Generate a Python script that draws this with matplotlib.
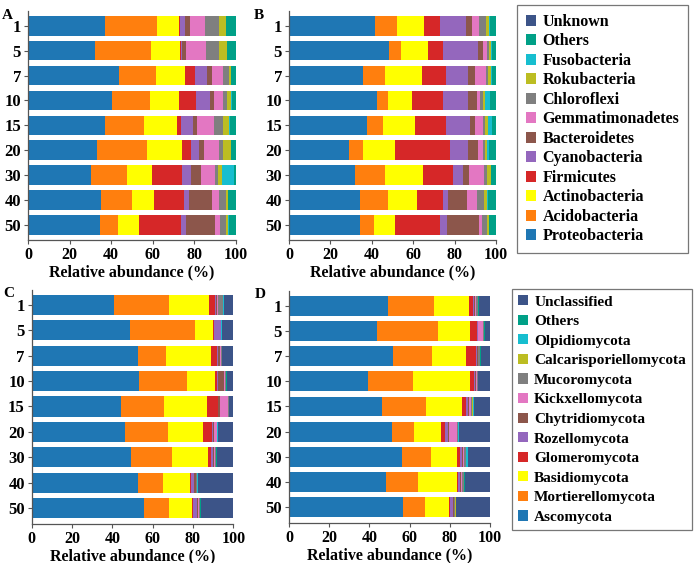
import numpy as np
import matplotlib
matplotlib.use("Agg")
import matplotlib.pyplot as plt
from matplotlib.patches import Patch

plt.rcParams['font.family'] = ['Liberation Serif', 'DejaVu Serif']
plt.rcParams['font.weight'] = 'bold'

samples = ["1", "5", "7", "10", "15", "20", "30", "40", "50"]

bacteria = ["Proteobacteria", "Acidobacteria", "Actinobacteria", "Firmicutes",
            "Cyanobacteria", "Bacteroidetes", "Gemmatimonadetes", "Chloroflexi",
            "Rokubacteria", "Fusobacteria", "Others", "Unknown"]
fungi = ["Ascomycota", "Mortierellomycota", "Basidiomycota", "Glomeromycota",
         "Rozellomycota", "Chytridiomycota", "Kickxellomycota", "Mucoromycota",
         "Calcarisporiellomycota", "Olpidiomycota", "Others", "Unclassified"]

colors = ["#1f77b4", "#ff7f0e", "#ffff00", "#d62728", "#9467bd", "#8c564b",
          "#e377c2", "#7f7f7f", "#bcbd22", "#17becf", "#00a087", "#3c5488"]

# rows = samples, columns = taxa (same order as the name lists)
data_A = [
    [37.0, 24.9, 10.9, 0.4, 2.1, 2.7, 7.0, 6.8, 3.2, 0.2, 4.8, 0],
    [32.2, 26.8, 14.1, 0.5, 0.3, 1.9, 9.8, 6.4, 3.5, 0.2, 4.3, 0],
    [43.8, 17.6, 14.1, 4.8, 5.6, 2.6, 5.4, 2.6, 0.9, 0.4, 2.2, 0],
    [40.2, 18.5, 14.1, 7.8, 6.7, 2.1, 4.5, 1.8, 2.1, 0.2, 2.0, 0],
    [37.0, 18.9, 15.6, 2.1, 5.9, 1.6, 8.3, 4.2, 3.2, 0.2, 3.0, 0],
    [33.3, 23.7, 16.9, 4.6, 3.7, 2.4, 7.1, 2.2, 3.5, 0.2, 2.4, 0],
    [30.1, 17.7, 11.8, 14.6, 4.2, 4.6, 7.1, 1.2, 1.8, 6.1, 0.8, 0],
    [35.1, 14.7, 10.6, 14.8, 2.2, 11.1, 3.2, 3.3, 1.0, 0.2, 3.8, 0],
    [34.8, 8.3, 10.3, 20.0, 2.6, 13.9, 2.2, 3.1, 1.0, 0.2, 3.6, 0],
]
data_B = [
    [41.4, 10.6, 13.2, 7.7, 12.4, 3.1, 3.2, 3.6, 1.6, 0.3, 2.9, 0],
    [48.3, 5.6, 13.1, 7.6, 16.5, 2.6, 1.8, 1.0, 0.9, 0.8, 1.8, 0],
    [35.7, 10.5, 18.2, 11.6, 10.3, 3.7, 5.0, 1.3, 1.1, 0.6, 2.0, 0],
    [42.5, 5.2, 11.7, 15.2, 11.7, 4.7, 1.3, 1.3, 1.1, 2.4, 2.9, 0],
    [37.7, 7.9, 15.4, 14.7, 11.7, 2.6, 3.6, 0.9, 1.5, 2.1, 1.9, 0],
    [29.0, 6.9, 15.5, 26.5, 8.4, 5.0, 2.6, 0.8, 0.8, 1.3, 3.2, 0],
    [32.0, 14.2, 18.5, 14.7, 4.5, 3.2, 7.3, 1.4, 1.8, 0.2, 2.2, 0],
    [34.1, 13.6, 14.0, 12.7, 2.3, 9.1, 4.9, 3.3, 1.8, 0.2, 4.0, 0],
    [34.3, 6.6, 10.5, 21.5, 3.6, 15.1, 1.6, 2.5, 0.8, 0.2, 3.3, 0],
]
data_C = [
    [40.8, 27.5, 19.8, 2.8, 0.5, 0.6, 0.5, 2.5, 0.1, 0.1, 0.1, 4.7],
    [48.8, 32.4, 8.6, 0.4, 3.5, 0.1, 0.1, 0.1, 0.1, 0.3, 0.1, 5.5],
    [52.6, 14.2, 22.1, 2.8, 0.7, 1.0, 0.3, 0.5, 0.1, 0.1, 0.1, 5.5],
    [53.2, 24.0, 13.7, 0.8, 0.5, 3.2, 0.3, 0.7, 0.1, 0.1, 0.1, 3.3],
    [44.1, 21.5, 21.2, 5.4, 0.4, 0.8, 4.1, 0.2, 0.1, 0.1, 0.1, 2.0],
    [46.3, 21.1, 17.6, 4.4, 0.7, 0.3, 1.3, 0.3, 0.1, 0.1, 0.1, 7.7],
    [49.1, 20.3, 17.9, 1.6, 0.9, 0.6, 0.3, 0.7, 0.1, 0.1, 0.1, 8.3],
    [52.7, 12.3, 13.5, 0.3, 1.7, 0.8, 0.2, 0.6, 0.1, 0.1, 0.1, 17.6],
    [55.7, 12.6, 11.2, 0.3, 2.0, 0.8, 0.2, 0.7, 0.1, 0.1, 0.1, 16.2],
]
data_D = [
    [49.1, 23.0, 17.6, 2.0, 0.4, 0.6, 0.3, 1.0, 0.1, 0.1, 0.1, 5.7],
    [43.6, 30.7, 15.7, 3.7, 0.2, 0.2, 2.5, 0.4, 0.1, 0.1, 0.1, 2.7],
    [51.6, 19.5, 17.0, 4.9, 0.3, 0.6, 0.3, 0.8, 0.1, 0.1, 0.1, 4.7],
    [39.3, 22.4, 28.3, 2.2, 0.4, 0.6, 0.2, 0.5, 0.1, 0.1, 0.1, 5.8],
    [46.1, 22.1, 17.9, 2.0, 1.0, 0.3, 1.3, 0.3, 0.7, 0.1, 0.1, 8.1],
    [51.2, 10.8, 13.6, 2.2, 1.3, 0.5, 4.1, 0.5, 0.1, 0.1, 0.1, 15.5],
    [56.4, 14.1, 12.9, 1.7, 0.8, 0.5, 0.8, 0.7, 0.3, 0.7, 0.1, 11.0],
    [48.1, 15.9, 19.4, 0.7, 1.0, 0.6, 0.4, 1.0, 0.1, 0.1, 0.1, 12.6],
    [56.6, 11.1, 11.9, 0.3, 1.5, 0.5, 0.2, 0.7, 0.1, 0.1, 0.1, 16.9],
]

W, H = 694, 563
fig = plt.figure(figsize=(W / 100, H / 100), dpi=100)


def px_axes(x0, x1, y0, y1):
    return fig.add_axes([x0 / W, 1 - y1 / H, (x1 - x0) / W, (y1 - y0) / H])


def panel(ax, data, letter, lx):
    vals = np.array(data)
    y = np.arange(len(samples))
    left = np.zeros(len(samples))
    for j in range(vals.shape[1]):
        ax.barh(y, vals[:, j], left=left, height=0.79, color=colors[j], linewidth=0)
        left += vals[:, j]
    ax.set_xlim(0, 100)
    ax.set_ylim(8.62, -0.6)
    ax.set_yticks(y)
    ax.set_yticklabels(samples, fontsize=12, fontweight='bold')
    ax.set_xticks([0, 20, 40, 60, 80, 100])
    ax.tick_params(axis='x', labelsize=11.5, length=3, color='#555555', pad=2)
    ax.tick_params(axis='y', length=3, color='#555555', pad=2)
    for lab in ax.get_xticklabels():
        lab.set_fontweight('bold')
    ax.set_xlabel("Relative abundance (%)", fontsize=11.5, fontweight='bold', labelpad=1)
    for s in ['top', 'right']:
        ax.spines[s].set_visible(False)
    for s in ['left', 'bottom']:
        ax.spines[s].set_color('#555555')
        ax.spines[s].set_linewidth(0.9)
    ax.text(lx, 1.01, letter, transform=ax.transAxes, fontsize=11,
            fontweight='bold', ha='left', va='top')


axA = px_axes(28, 236, 10.8, 240.4)
axB = px_axes(289, 496, 10.8, 240.4)
axC = px_axes(31.7, 233.3, 289.8, 523.7)
axD = px_axes(289, 490, 290.5, 523.0)

panel(axA, data_A, "A", -0.125)
panel(axB, data_B, "B", -0.17)
panel(axC, data_C, "C", -0.14)
panel(axD, data_D, "D", -0.17)


def make_legend(names, anchor, fs, spacing, pad):
    handles = [Patch(facecolor=colors[i], edgecolor='none', label=names[i])
               for i in range(len(names))][::-1]
    leg = fig.legend(handles=handles, loc='upper left', bbox_to_anchor=anchor,
                     bbox_transform=fig.transFigure, frameon=True, fancybox=False,
                     prop={'family': 'Liberation Serif', 'weight': 'bold', 'size': fs},
                     handlelength=0.65, handleheight=0.65, handletextpad=0.4,
                     labelspacing=spacing, borderpad=pad, borderaxespad=0)
    leg.get_frame().set_edgecolor('#555555')
    leg.get_frame().set_linewidth(0.9)
    return leg


make_legend(bacteria, (517 / W, 1 - 5 / H), 11.5, 0.22, 0.55)
make_legend(fungi, (512 / W, 1 - 289 / H), 11, 0.40, 0.4)

fig.savefig("out.png", dpi=100)
